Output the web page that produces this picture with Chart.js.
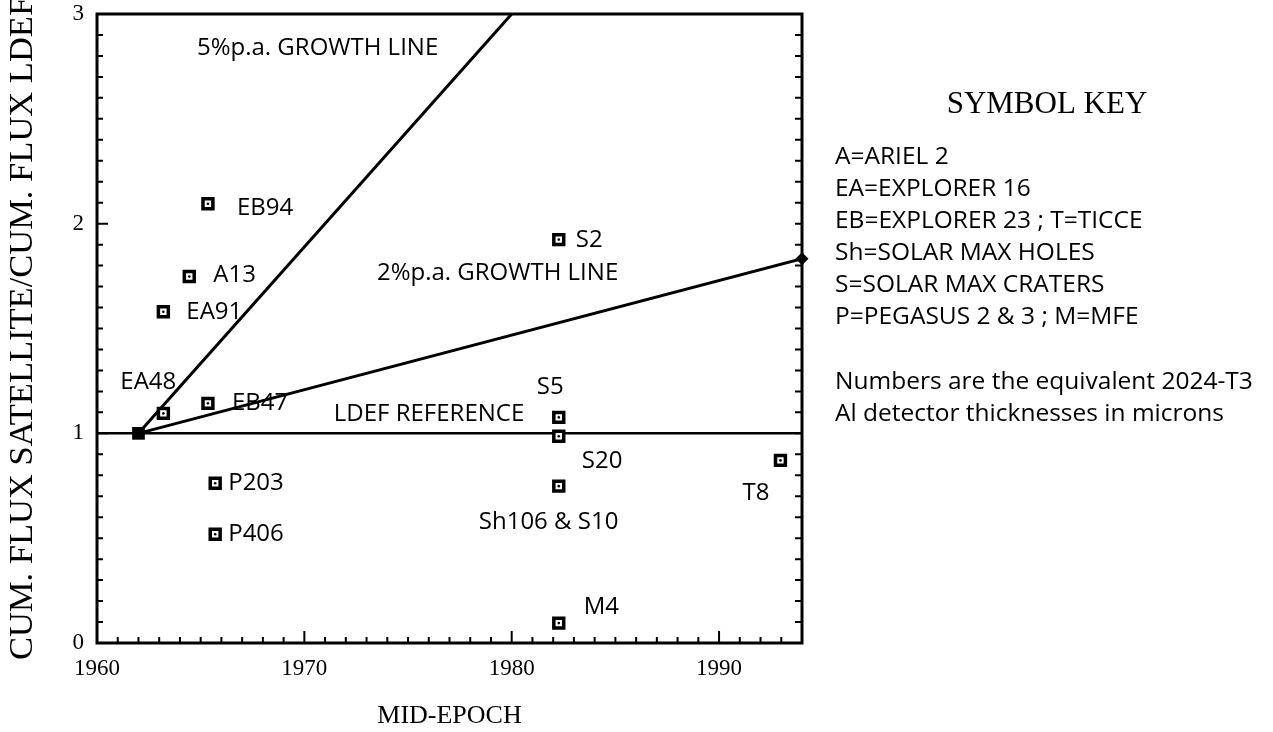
<!DOCTYPE html>
<html>
<head>
<meta charset="utf-8">
<script src="https://cdn.jsdelivr.net/npm/chart.js@4.4.0/dist/chart.umd.min.js"></script>
<style>
  html, body { margin: 0; padding: 0; background: #fff; }
  canvas { display: block; }
</style>
</head>
<body>
<canvas id="chart" width="1273" height="732"></canvas>
<script>
// satellites
const satLabels = ["EB94", "A13", "EA91", "EA48", "EB47", "P203", "P406",
                   "S2", "S5", "S20", "Sh106 & S10", "M4", "T8"];
const midEpoch = [1965.35, 1964.45, 1963.2, 1963.2, 1965.35, 1965.7, 1965.7,
                  1982.27, 1982.27, 1982.27, 1982.27, 1982.27, 1992.96];
const fluxRatio = [2.095, 1.748, 1.58, 1.095, 1.143, 0.762, 0.519,
                   1.924, 1.076, 0.986, 0.748, 0.095, 0.871];

// reference and growth lines
const refEpoch = [1962];
const refRatio = [1];
const growth5Epoch = [1962, 1980];
const growth5Ratio = [1, 3];
const growth2Epoch = [1962, 1994];
const growth2Ratio = [1, 1.833];
const ldefEpoch = [1960, 1994];
const ldefRatio = [1, 1];

const xTicks = [1960, 1970, 1980, 1990];
const yTicks = [0, 1, 2, 3];

const keyTitle = "SYMBOL KEY";
const keyLines = ["A=ARIEL 2", "EA=EXPLORER 16", "EB=EXPLORER 23 ; T=TICCE",
                  "Sh=SOLAR MAX HOLES", "S=SOLAR MAX CRATERS", "P=PEGASUS 2 & 3 ; M=MFE"];
const keyNote = ["Numbers are the equivalent 2024-T3", "Al detector thicknesses in microns"];

// label placement relative to each marker (pixels)
const labelOffsets = [[29, 4], [24, -1], [23, 0], [-43, -31], [24, 0], [13, 0], [13, 0],
                      [17, 1], [-22, -30], [23, 25], [-80, 36], [25, -16], [-38, 33]];

const SANS = "'Open Sans', sans-serif";
const SERIF = "'Liberation Serif', 'Times New Roman', serif";

function pts(xs, ys) {
  return xs.map((x, i) => ({ x: x, y: ys[i] }));
}

const frame = {
  id: "frame",
  afterDraw(chart) {
    const ctx = chart.ctx;
    const a = chart.chartArea;
    const x = chart.scales.x, y = chart.scales.y;
    ctx.save();
    ctx.strokeStyle = "#000";
    ctx.lineWidth = 2;
    ctx.beginPath();
    for (let yr = 1960; yr <= 1994; yr++) {
      const px = x.getPixelForValue(yr);
      const len = yr % 10 === 0 ? 12 : 6;
      ctx.moveTo(px, a.bottom);
      ctx.lineTo(px, a.bottom - len);
    }
    for (let i = 0; i <= 30; i++) {
      const py = y.getPixelForValue(i / 10);
      const len = i % 10 === 0 ? 11 : 6;
      ctx.moveTo(a.left, py);
      ctx.lineTo(a.left + len, py);
      ctx.moveTo(a.right, py);
      ctx.lineTo(a.right - 7, py);
    }
    ctx.stroke();
    ctx.lineWidth = 3;
    ctx.strokeRect(a.left, a.top, a.right - a.left, a.bottom - a.top);

    // point labels
    ctx.fillStyle = "#000";
    ctx.font = "24px " + SANS;
    ctx.textBaseline = "middle";
    ctx.textAlign = "left";
    const meta = chart.getDatasetMeta(0);
    meta.data.forEach((el, i) => {
      ctx.fillText(satLabels[i], el.x + labelOffsets[i][0], el.y + labelOffsets[i][1]);
    });

    // line labels
    ctx.fillText("5%p.a. GROWTH LINE", x.getPixelForValue(1964.82), y.getPixelForValue(2.838));
    ctx.fillText("2%p.a. GROWTH LINE", x.getPixelForValue(1973.5), y.getPixelForValue(1.762));
    ctx.fillText("LDEF REFERENCE", x.getPixelForValue(1971.42), y.getPixelForValue(1.09));

    // symbol key
    ctx.textAlign = "center";
    ctx.font = "31px " + SERIF;
    ctx.fillText(keyTitle, 1047, 105);
    ctx.textAlign = "left";
    ctx.font = "24.5px " + SANS;
    keyLines.forEach((t, i) => ctx.fillText(t, 835, 157 + i * 32));
    keyNote.forEach((t, i) => ctx.fillText(t, 835, 382 + i * 32));
    ctx.restore();
  }
};

const satPoints = pts(midEpoch, fluxRatio);

new Chart(document.getElementById("chart"), {
  type: "scatter",
  data: {
    datasets: [
      {
        data: satPoints,
        pointStyle: "circle",
        pointRadius: 1.3,
        backgroundColor: "#000",
        borderWidth: 0
      },
      {
        data: satPoints,
        pointStyle: "rect",
        pointRadius: 7,
        backgroundColor: "#fff",
        borderColor: "#000",
        borderWidth: 3.5
      },
      {
        data: pts(refEpoch, refRatio),
        pointStyle: "rect",
        pointRadius: 9,
        backgroundColor: "#000",
        borderWidth: 0
      },
      {
        data: [pts(growth2Epoch, growth2Ratio)[1]],
        pointStyle: "rectRot",
        pointRadius: 6.5,
        backgroundColor: "#000",
        borderWidth: 0,
        clip: false
      },
      {
        type: "line",
        data: pts(growth5Epoch, growth5Ratio),
        borderColor: "#000",
        borderWidth: 3,
        pointRadius: 0
      },
      {
        type: "line",
        data: pts(growth2Epoch, growth2Ratio),
        borderColor: "#000",
        borderWidth: 3,
        pointRadius: 0
      },
      {
        type: "line",
        data: pts(ldefEpoch, ldefRatio),
        borderColor: "#000",
        borderWidth: 2.5,
        pointRadius: 0
      }
    ]
  },
  options: {
    responsive: false,
    animation: false,
    events: [],
    layout: { padding: { top: 14, right: 471, bottom: 0, left: 0 } },
    plugins: { legend: { display: false }, tooltip: { enabled: false } },
    scales: {
      x: {
        type: "linear",
        min: 1960,
        max: 1994,
        afterBuildTicks: axis => { axis.ticks = xTicks.map(v => ({ value: v })); },
        afterFit: axis => { axis.height = 89; axis.paddingLeft = 0; axis.paddingRight = 0; },
        grid: { display: false, drawTicks: false },
        border: { display: false },
        ticks: {
          padding: 12,
          color: "#000",
          font: { family: SERIF, size: 23 },
          callback: v => String(v)
        },
        title: {
          display: true,
          text: "MID-EPOCH",
          color: "#000",
          font: { family: SERIF, size: 26 },
          padding: { top: 0, bottom: 0 }
        }
      },
      y: {
        min: 0,
        max: 3,
        afterBuildTicks: axis => { axis.ticks = yTicks.map(v => ({ value: v })); },
        afterFit: axis => { axis.width = 97; axis.paddingTop = 0; axis.paddingBottom = 0; },
        grid: { display: false, drawTicks: false },
        border: { display: false },
        ticks: {
          padding: 13,
          color: "#000",
          font: { family: SERIF, size: 23 },
          callback: v => String(v)
        },
        title: {
          display: true,
          text: "CUM. FLUX SATELLITE/CUM. FLUX LDEF",
          color: "#000",
          font: { family: SERIF, size: 34.5 },
          padding: { top: 2, bottom: 0 }
        }
      }
    }
  },
  plugins: [frame]
});
</script>
</body>
</html>
